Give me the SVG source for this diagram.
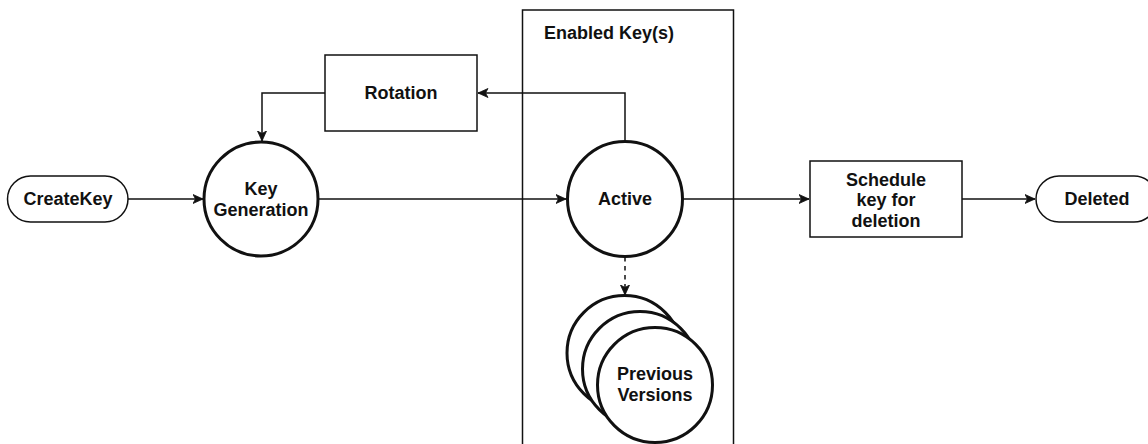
<svg xmlns="http://www.w3.org/2000/svg" width="1148" height="444" viewBox="0 0 1148 444">
<style>
.t{font-family:"Liberation Sans",Arial,Helvetica,sans-serif;font-weight:bold;font-size:18px;fill:#111;text-anchor:middle}
.tl{text-anchor:start}
.box{fill:#fff;stroke:#111;stroke-width:1.5}
.circ{fill:#fff;stroke:#111;stroke-width:3}
.edge{fill:none;stroke:#111;stroke-width:1.5}
.dash{stroke-dasharray:4.5 4.5}
</style>
<defs>
<marker id="arr" viewBox="0 0 11 11" refX="10.5" refY="5.5" markerWidth="11" markerHeight="11" markerUnits="userSpaceOnUse" orient="auto">
<path d="M0.5,1 L10.5,5.5 L0.5,10 L3,5.5 z" fill="#111" stroke="#111" stroke-width="0.8" stroke-linejoin="miter"/>
</marker>
</defs>
<rect width="1148" height="444" fill="#fff"/>
<g id="enabled-keys">
<rect class="box" x="522.5" y="10" width="211" height="445" fill="none"/>
<text class="t tl" x="544" y="39">Enabled Key(s)</text>
</g>
<g id="connectors">
<path class="edge" d="M128,199 L203,199" marker-end="url(#arr)"/>
<path class="edge" d="M318,199 L566,199" marker-end="url(#arr)"/>
<path class="edge" d="M625,141 L625,93 L478,93" marker-end="url(#arr)"/>
<path class="edge" d="M325,93 L262,93 L262,141" marker-end="url(#arr)"/>
<path class="edge" d="M682,199 L809,199" marker-end="url(#arr)"/>
<path class="edge" d="M962,199 L1035,199" marker-end="url(#arr)"/>
<path class="edge dash" d="M625,257 L625,295" marker-end="url(#arr)"/>
</g>
<g id="createkey">
<rect class="box" x="7.5" y="176" width="120.5" height="46" rx="23" ry="23"/>
<text class="t" x="68" y="205">CreateKey</text>
</g>
<g id="key-generation">
<circle class="circ" cx="261" cy="199" r="57"/>
<text class="t" x="261" y="195">Key</text>
<text class="t" x="261" y="216">Generation</text>
</g>
<g id="rotation">
<rect class="box" x="325" y="55" width="152" height="76"/>
<text class="t" x="401" y="99">Rotation</text>
</g>
<g id="active">
<circle class="circ" cx="625" cy="199" r="57.5"/>
<text class="t" x="625" y="205">Active</text>
</g>
<g id="previous-versions">
<circle class="circ" cx="624.5" cy="353" r="57.5"/>
<circle class="circ" cx="640" cy="369" r="57.5"/>
<circle class="circ" cx="655" cy="385" r="57.5"/>
<text class="t" x="655" y="380">Previous</text>
<text class="t" x="655" y="401">Versions</text>
</g>
<g id="schedule-deletion">
<rect class="box" x="810" y="161" width="152" height="76"/>
<text class="t" x="886" y="185.5">Schedule</text>
<text class="t" x="886" y="206">key for</text>
<text class="t" x="886" y="227">deletion</text>
</g>
<g id="deleted">
<rect class="box" x="1036" y="176" width="121" height="46" rx="23" ry="23"/>
<text class="t" x="1097" y="205">Deleted</text>
</g>
</svg>
